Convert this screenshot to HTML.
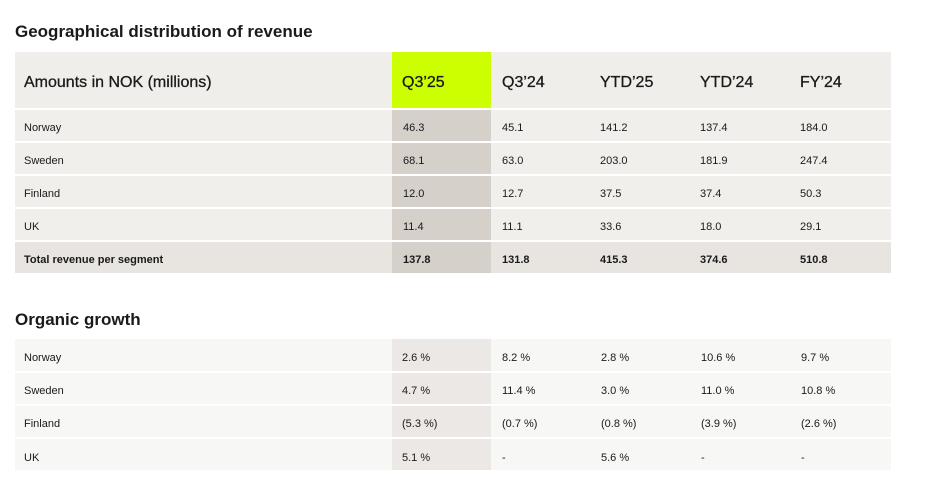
<!DOCTYPE html>
<html><head><meta charset="utf-8"><style>
body{margin:0;width:933px;height:500px;background:#fff;font-family:"Liberation Sans",sans-serif;color:#1a1a1a;position:relative;overflow:hidden}
.a{position:absolute}
.t{font-size:17px;font-weight:600;left:15px}
.bg{position:absolute;left:15px;width:876px}
.c{position:absolute;font-size:11px;line-height:1;margin-top:2px}
.h{position:absolute;font-size:16px;line-height:1;margin-top:1px;-webkit-text-stroke:0.3px #1a1a1a}
</style></head><body>
<div class="a t" style="top:22px">Geographical distribution of revenue</div>
<div class="bg" style="top:52px;height:56px;background:#efeeeb"></div>
<div class="a" style="left:392px;top:52px;width:99px;height:56px;background:#ccff00"></div>
<div class="h" style="left:24px;top:74px">Amounts in NOK (millions)</div>
<div class="h" style="left:402px;top:74px">Q3’25</div>
<div class="h" style="left:502px;top:74px">Q3’24</div>
<div class="h" style="left:600px;top:74px">YTD’25</div>
<div class="h" style="left:700px;top:74px">YTD’24</div>
<div class="h" style="left:800px;top:74px">FY’24</div>

<div class="bg" style="top:110px;height:31px;background:#f0efec"></div>
<div class="bg" style="top:143px;height:31px;background:#f0efec"></div>
<div class="bg" style="top:176px;height:31px;background:#f0efec"></div>
<div class="bg" style="top:209px;height:31px;background:#f0efec"></div>
<div class="bg" style="top:242px;height:31px;background:#e8e5e1"></div>
<div class="a" style="left:392px;top:110px;width:99px;height:31px;background:#d5d0ca"></div>
<div class="a" style="left:392px;top:143px;width:99px;height:31px;background:#d5d0ca"></div>
<div class="a" style="left:392px;top:176px;width:99px;height:31px;background:#d5d0ca"></div>
<div class="a" style="left:392px;top:209px;width:99px;height:31px;background:#d5d0ca"></div>
<div class="a" style="left:392px;top:242px;width:99px;height:31px;background:#d5d0ca"></div>

<div class="c" style="left:24px;top:121px">Norway</div><div class="c" style="left:403px;top:121px">46.3</div><div class="c" style="left:502px;top:121px">45.1</div><div class="c" style="left:600px;top:121px">141.2</div><div class="c" style="left:700px;top:121px">137.4</div><div class="c" style="left:800px;top:121px">184.0</div>
<div class="c" style="left:24px;top:154px">Sweden</div><div class="c" style="left:403px;top:154px">68.1</div><div class="c" style="left:502px;top:154px">63.0</div><div class="c" style="left:600px;top:154px">203.0</div><div class="c" style="left:700px;top:154px">181.9</div><div class="c" style="left:800px;top:154px">247.4</div>
<div class="c" style="left:24px;top:187px">Finland</div><div class="c" style="left:403px;top:187px">12.0</div><div class="c" style="left:502px;top:187px">12.7</div><div class="c" style="left:600px;top:187px">37.5</div><div class="c" style="left:700px;top:187px">37.4</div><div class="c" style="left:800px;top:187px">50.3</div>
<div class="c" style="left:24px;top:220px">UK</div><div class="c" style="left:403px;top:220px">11.4</div><div class="c" style="left:502px;top:220px">11.1</div><div class="c" style="left:600px;top:220px">33.6</div><div class="c" style="left:700px;top:220px">18.0</div><div class="c" style="left:800px;top:220px">29.1</div>
<div class="c" style="left:24px;top:253px;font-weight:600">Total revenue per segment</div><div class="c" style="left:403px;top:253px;font-weight:600">137.8</div><div class="c" style="left:502px;top:253px;font-weight:600">131.8</div><div class="c" style="left:600px;top:253px;font-weight:600">415.3</div><div class="c" style="left:700px;top:253px;font-weight:600">374.6</div><div class="c" style="left:800px;top:253px;font-weight:600">510.8</div>

<div class="a t" style="top:310px">Organic growth</div>
<div class="bg" style="top:339px;height:32px;background:#f7f7f5"></div>
<div class="bg" style="top:373px;height:31px;background:#f7f7f5"></div>
<div class="bg" style="top:406px;height:31px;background:#f7f7f5"></div>
<div class="bg" style="top:439px;height:31px;background:#f7f7f5"></div>
<div class="a" style="left:392px;top:339px;width:99px;height:32px;background:#ebe8e5"></div>
<div class="a" style="left:392px;top:373px;width:99px;height:31px;background:#ebe8e5"></div>
<div class="a" style="left:392px;top:406px;width:99px;height:31px;background:#ebe8e5"></div>
<div class="a" style="left:392px;top:439px;width:99px;height:31px;background:#ebe8e5"></div>

<div class="c" style="left:24px;top:351px">Norway</div><div class="c" style="left:402px;top:351px">2.6 %</div><div class="c" style="left:502px;top:351px">8.2 %</div><div class="c" style="left:601px;top:351px">2.8 %</div><div class="c" style="left:701px;top:351px">10.6 %</div><div class="c" style="left:801px;top:351px">9.7 %</div>
<div class="c" style="left:24px;top:384px">Sweden</div><div class="c" style="left:402px;top:384px">4.7 %</div><div class="c" style="left:502px;top:384px">11.4 %</div><div class="c" style="left:601px;top:384px">3.0 %</div><div class="c" style="left:701px;top:384px">11.0 %</div><div class="c" style="left:801px;top:384px">10.8 %</div>
<div class="c" style="left:24px;top:417px">Finland</div><div class="c" style="left:402px;top:417px">(5.3 %)</div><div class="c" style="left:502px;top:417px">(0.7 %)</div><div class="c" style="left:601px;top:417px">(0.8 %)</div><div class="c" style="left:701px;top:417px">(3.9 %)</div><div class="c" style="left:801px;top:417px">(2.6 %)</div>
<div class="c" style="left:24px;top:451px">UK</div><div class="c" style="left:402px;top:451px">5.1 %</div><div class="c" style="left:502px;top:451px">-</div><div class="c" style="left:601px;top:451px">5.6 %</div><div class="c" style="left:701px;top:451px">-</div><div class="c" style="left:801px;top:451px">-</div>
</body></html>
